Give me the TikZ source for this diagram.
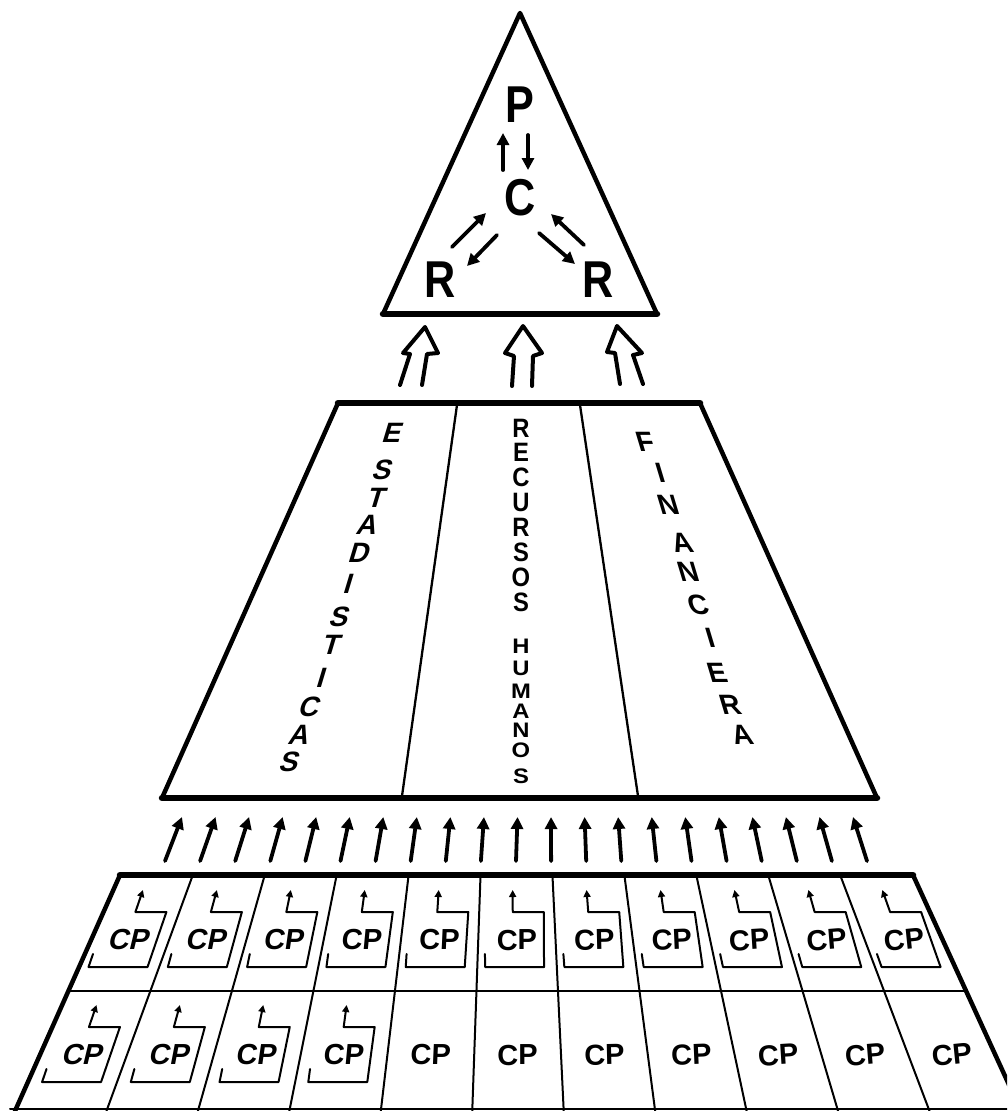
\documentclass[tikz,border=0pt]{standalone}
\usepackage{fontspec}
\setmainfont{Liberation Sans}
\usetikzlibrary{arrows.meta}
\begin{document}
\begin{tikzpicture}[x=1pt,y=-1pt,
  line join=round, line cap=round,
  smallarrow/.style={line width=3.8pt,-{Triangle[length=12pt,width=12pt]}},
  rowarrow/.style={line width=3.8pt,-{Triangle[length=12pt,width=12pt]}},
  hollow/.style={line width=4pt},
  bracketline/.style={line width=2pt,-{Triangle[length=7pt,width=7pt]}},
  letter/.style={font=\fontsize{28}{28}\selectfont\bfseries, inner sep=0pt},
  midletter/.style={font=\fontsize{28}{28}\selectfont\bfseries, inner sep=0pt, xscale=0.85},
  bigletter/.style={font=\fontsize{48}{48}\selectfont\bfseries, inner sep=0pt, xscale=0.9, yscale=1.08},
  cptext/.style={font=\fontsize{29}{29}\selectfont\bfseries, inner sep=0pt},
  heavy/.style={line width=6.5pt},
  side/.style={line width=4.5pt},
  thinline/.style={line width=2.3pt}
]
\useasboundingbox (0,0) rectangle (1007,1111);
\begin{scope}
\clip (0,0) rectangle (1007,1111);

% ---------- top triangle ----------
\draw[side] (383,314) -- (520,13) -- (657,314);
\draw[heavy] (383,314) -- (657,314);
\node[bigletter] (P) at (520,105) {P};
\node[bigletter] (C) at (520,198) {C};
\node[bigletter] (RL) at (440,280) {R};
\node[bigletter] (RR) at (598,280) {R};
\coordinate (pc1) at (503,170); \coordinate (pc2) at (503,133);
\coordinate (pc3) at (528,135); \coordinate (pc4) at (528,170);
\coordinate (cl1) at (452,247); \coordinate (cl2) at (486,213);
\coordinate (cl3) at (497,235); \coordinate (cl4) at (467,266);
\coordinate (cr1) at (539,233); \coordinate (cr2) at (575,264);
\coordinate (cr3) at (584,245); \coordinate (cr4) at (551,214);
\draw[smallarrow] (pc1) -- (pc2);
\draw[smallarrow] (pc3) -- (pc4);
\draw[smallarrow] (cl1) -- (cl2);
\draw[smallarrow] (cl3) -- (cl4);
\draw[smallarrow] (cr1) -- (cr2);
\draw[smallarrow] (cr3) -- (cr4);

% ---------- hollow arrows ----------
\draw[hollow] (400,385) -- (410,354) -- (403,353) -- (425,327) -- (438,353) -- (427,354) -- (422,385);
\draw[hollow] (512,386) -- (514,356) -- (505,353) -- (523,326) -- (542,353) -- (533,356) -- (532,386);
\draw[hollow] (620,384) -- (615,353) -- (607,352) -- (617,326) -- (642,353) -- (633,355) -- (643,384);

% ---------- trapezoid ----------
\draw[side] (338,403) -- (162,798);
\draw[side] (700,403) -- (877,798);
\draw[heavy] (338,403) -- (700,403);
\draw[heavy] (162,798) -- (877,798);
\draw[thinline] (457,405) -- (402,796);
\draw[thinline] (580,405) -- (638,796);

% ESTADISTICAS
\foreach \ch/\xx/\yy [count=\n] in {E/393/433,S/383/470,T/377/498,A/368/525,D/360/553,I/349/584,S/340/617,T/332/645,I/322/678,C/310/707,A/300/735,S/290/762}
  \node[letter,xslant=0.3] (est\n) at (\xx,\yy) {\ch};
% RECURSOS HUMANOS
\foreach \ch/\yy [count=\n] in {R/428,E/452,C/477,U/502,R/527,S/552,O/577,S/602}
  \node[midletter,yscale=0.95] (rec\n) at (521,\yy) {\ch};
\foreach \ch/\yy [count=\n] in {H/646,U/668,M/691,A/711,N/730,O/750,S/776}
  \node[midletter,yscale=0.75] (hum\n) at (521,\yy) {\ch};
% FINANCIERA
\foreach \ch/\xx/\yy [count=\n] in {F/645/442,I/660/473,N/668/505,A/682/543,N/688/572,C/698/605,I/710/638,E/717/673,R/730/705,A/742/735}
  \node[letter,xslant=-0.3] (fin\n) at (\xx,\yy) {\ch};

% ---------- row of arrows ----------
\foreach \j in {0,...,20}{
  \coordinate (ra\j) at ({165+35.1*\j},861);
  \coordinate (rb\j) at ({182+33.55*\j},817);
  \draw[rowarrow] (ra\j) -- (rb\j);
}

% ---------- bottom grid ----------
\draw[heavy] (120,875) -- (913,875);
\draw[side] (120,875) -- (15,1111);
\draw[side] (913,875) -- (1021,1111);
\draw[thinline] (68.4,991) -- (966,991);
\draw[line width=2pt] (10,1109) -- (1007,1109);
\foreach \k in {1,...,10}{
  \draw[line width=2pt] ({120+72.09*\k},877) -- ({15+91.45*\k},1111);
}

\foreach \i in {1,...,11}{
  \pgfmathsetmacro{\Ta}{120+72.09*(\i-1)}
  \pgfmathsetmacro{\Tb}{120+72.09*\i}
  \pgfmathsetmacro{\Ba}{15+91.45*(\i-1)}
  \pgfmathsetmacro{\Bb}{15+91.45*\i}
  \pgfmathsetmacro{\lean}{((\Ta+\Tb)-(\Ba+\Bb))/472}
  \pgfmathsetmacro{\ts}{max(\lean,0)*0.6}
  \pgfmathsetmacro{\rt}{max(-\lean,0)*14}
  \pgfmathsetmacro{\cxa}{(\Ta+\Tb)/2-\lean*65}
  \pgfmathsetmacro{\cxb}{(\Ta+\Tb)/2-\lean*180}
  \pgfmathsetmacro{\sl}{0.85*\lean}
  % top row
  \node[cptext,xslant=\ts,rotate=\rt] (cpa\i) at (\cxa,940) {CP};
  \begin{scope}[shift={(\cxa,940)},xslant=\sl]
    \draw[bracketline] (-32,14) -- (-32,27) -- (27,27) -- (27,-28) -- (-4,-28) -- (-4,-50);
  \end{scope}
  % bottom row
  \node[cptext,xslant=\ts,rotate=\rt] (cpb\i) at (\cxb,1055) {CP};
  \ifnum\i<5
  \begin{scope}[shift={(\cxb,1055)},xslant=\sl]
    \draw[bracketline] (-32,14) -- (-32,27) -- (27,27) -- (27,-28) -- (-4,-28) -- (-4,-50);
  \end{scope}
  \fi
}
\end{scope}
\end{tikzpicture}
\end{document}
